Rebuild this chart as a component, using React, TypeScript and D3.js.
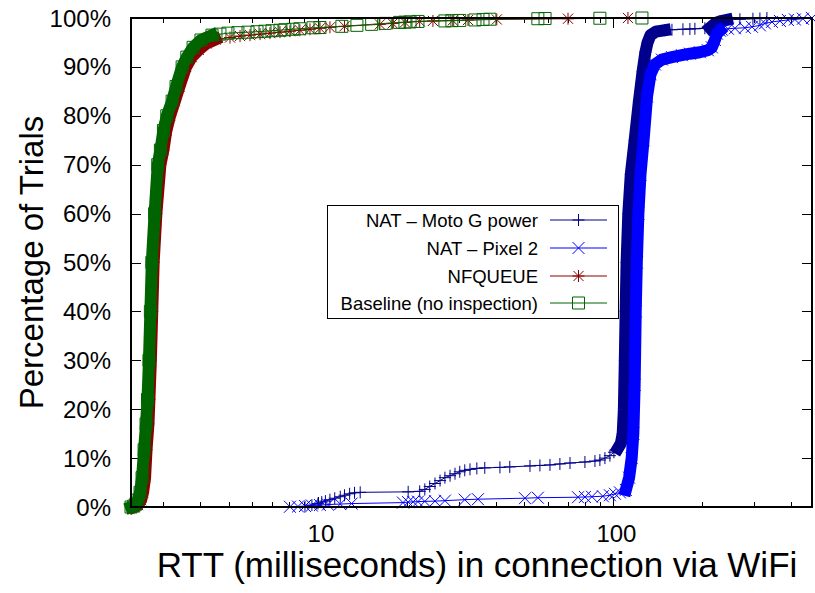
import React from 'react';
import * as d3 from 'd3';

type Pt = [number, number]; // [RTT in ms, cumulative percent of trials]

// ---------- axis data ----------
const xDomain: [number, number] = [2.33, 470];
const xMajorTicks = [10, 100];
const xMajorLabels = ['10', '100'];
const xMinorTicks = [3, 4, 5, 6, 7, 8, 9, 20, 30, 40, 50, 60, 70, 80, 90, 200, 300, 400];
const yTicks = [0, 10, 20, 30, 40, 50, 60, 70, 80, 90, 100];
const yTickLabels = ['0%', '10%', '20%', '30%', '40%', '50%', '60%', '70%', '80%', '90%', '100%'];
const xTitle = 'RTT (milliseconds) in connection via WiFi';
const yTitle = 'Percentage of Trials';

const seriesNames = ['NAT – Moto G power', 'NAT – Pixel 2', 'NFQUEUE', 'Baseline (no inspection)'];

// ---------- NAT – Moto G power ----------
// "Body" = ranges where thousands of samples overplot into a solid band.
const motoBody: Pt[][] = [
  [[103.6, 12], [106, 13], [107.5, 15], [108.5, 20], [109.3, 30], [110.0, 40], [110.8, 50], [112.3, 60],
   [114.5, 68], [118, 75], [122, 83], [125.5, 89], [128.3, 93], [130.5, 95], [133.5, 96.5], [139.3, 97.2],
   [149.4, 97.5]],
  [[212.2, 98], [217.1, 98.5], [222.3, 99], [229.4, 99.3], [242.2, 99.6]],
];
const motoMarks: Pt[] = [
  [9.04, 0.1], [9.54, 0.4], [10.0, 0.7], [10.3, 1], [10.6, 1.2], [10.98, 1.5], [11.4, 1.8], [11.9, 2.1],
  [12.3, 2.4], [12.8, 2.7], [13.3, 2.9], [13.9, 3], [20.2, 3.1], [22.1, 3.2], [23.0, 3.6], [23.9, 4.2],
  [24.9, 4.8], [25.9, 5.4], [26.9, 6], [28.0, 6.4], [29.1, 6.8], [30.2, 7.2], [31.4, 7.5], [32.7, 7.7],
  [34.5, 7.9], [36.7, 8], [41.3, 8.1], [44.6, 8.2], [52.2, 8.4], [56.4, 8.5], [61.0, 8.6], [65.9, 8.8],
  [71.3, 9], [80.1, 9.2], [86.6, 9.4], [90.0, 9.6], [93.6, 10], [97.3, 10.5], [100.4, 11.2],
  [157.8, 97.6], [171.9, 97.7], [181.5, 97.75], [188.7, 97.8], [204.0, 97.9],
  [268.0, 99.75], [296.6, 99.85], [313.2, 99.9], [330.7, 100],
];

// ---------- NAT – Pixel 2 ----------
const pixelBody: Pt[][] = [
  [[110.2, 3.5], [113.0, 6], [115.3, 10], [116.8, 15], [118.0, 25], [119.0, 40], [120.0, 50], [121.5, 60],
   [123.5, 68], [126.5, 75], [130.0, 84], [133.5, 88.5], [138.2, 90.5], [145.9, 91.5], [157.8, 92],
   [170.5, 92.4], [181.5, 92.7], [196.2, 93], [208.8, 93.4], [215.4, 94], [220.5, 95.5], [224.0, 96.8],
   [229.4, 97.4]],
];
const pixelMarks: Pt[] = [
  [8.04, 0.05], [8.56, 0.1], [9.04, 0.2], [9.54, 0.3], [10.16, 0.4], [10.81, 0.5], [11.9, 0.6], [13.0, 0.7],
  [19.4, 0.9], [20.2, 1], [21.0, 1.05], [21.8, 1.1], [23.0, 1.15], [24.9, 1.2], [26.9, 1.3], [31.4, 1.5],
  [34.8, 1.6], [50.2, 1.8], [55.5, 1.9], [75.9, 2], [80.1, 2.05], [84.6, 2.1], [92.1, 2.2], [97.3, 2.4],
  [101.2, 2.7], [105.2, 3.0],
  [232.9, 97.6], [244.1, 97.8], [257.8, 97.9], [278.6, 98], [294.3, 98.2], [313.2, 98.5], [325.6, 98.9],
  [343.9, 99.2], [366.0, 99.4], [389.4, 99.6], [411.4, 99.7], [437.8, 99.85], [469.7, 100],
];

// ---------- NFQUEUE ----------
const nfqBody: Pt[][] = [
  [[2.38, 0], [2.46, 0.4], [2.52, 1.4], [2.56, 3], [2.60, 6], [2.63, 11.7], [2.67, 17], [2.69, 22], [2.72, 30],
   [2.75, 40], [2.78, 50], [2.84, 60], [2.93, 70], [3.00, 73], [3.07, 77], [3.16, 80], [3.28, 83], [3.40, 86],
   [3.58, 90], [3.74, 92], [3.95, 93.5], [4.2, 94.8], [4.5, 95.6]],
];
const nfqMarks: Pt[] = [
  [5.04, 96], [5.45, 96.3], [5.89, 96.5], [6.37, 96.7], [6.88, 96.9], [7.44, 97.1], [8.04, 97.3], [8.69, 97.5],
  [9.40, 97.7], [10.16, 97.9], [10.98, 98.1], [12.3, 98.3], [16.2, 98.7], [17.9, 98.9], [19.7, 99.1],
  [22.1, 99.3], [24.5, 99.4], [28.6, 99.5], [32.2, 99.6], [40.3, 99.7], [70.2, 99.85], [112, 100],
];

// ---------- Baseline (no inspection) ----------
const baseBody: Pt[][] = [
  [[2.33, 0], [2.38, 0.2], [2.42, 0.6], [2.46, 1.4], [2.50, 3], [2.54, 6], [2.58, 11.7], [2.62, 17], [2.65, 22],
   [2.68, 30], [2.71, 40], [2.74, 50], [2.80, 60], [2.87, 70], [2.93, 73], [3.00, 77], [3.08, 80], [3.21, 83],
   [3.31, 86], [3.47, 90], [3.60, 92], [3.78, 94], [4.02, 95.5], [4.38, 96.5]],
];
const baseMarks: Pt[] = [
  [4.66, 96.7], [4.96, 96.9], [5.36, 97], [5.80, 97.1], [6.22, 97.2], [6.62, 97.3], [6.99, 97.4], [7.44, 97.5],
  [7.73, 97.6], [8.23, 97.7], [8.69, 97.8], [9.62, 98], [10.16, 98.05], [12.05, 98.3], [13.55, 98.5],
  [15.2, 98.7], [16.9, 98.9], [18.9, 99.1], [19.7, 99.15], [20.5, 99.2], [21.8, 99.3], [26.9, 99.4],
  [28.4, 99.45], [30.2, 99.5], [34.0, 99.6], [36.2, 99.7], [38.2, 99.75], [55.5, 99.85], [58.7, 99.9],
  [90.0, 99.95], [124.9, 100],
];

// ---------- layout ----------
const W = 815;
const H = 593;
const M = { left: 131, right: 812, top: 18, bottom: 507 };
const MARK = 6; // marker half size
const BAND = 12; // width of overplotted marker band
const FONT = '"Liberation Sans", Arial, Helvetica, sans-serif';

type Shape = 'plus' | 'cross' | 'star' | 'square';

const seriesDefs = [
  { name: seriesNames[0], color: '#00008b', shape: 'plus' as Shape, body: motoBody, marks: motoMarks },
  { name: seriesNames[1], color: '#0000ff', shape: 'cross' as Shape, body: pixelBody, marks: pixelMarks },
  { name: seriesNames[2], color: '#8b0000', shape: 'star' as Shape, body: nfqBody, marks: nfqMarks },
  { name: seriesNames[3], color: '#006400', shape: 'square' as Shape, body: baseBody, marks: baseMarks },
];

function markerPath(shape: Shape, x: number, y: number, s: number): string {
  const plus = `M${x - s},${y}H${x + s}M${x},${y - s}V${y + s}`;
  const cs = s * 0.85;
  const cross = `M${x - cs},${y - cs}L${x + cs},${y + cs}M${x - cs},${y + cs}L${x + cs},${y - cs}`;
  if (shape === 'plus') return plus;
  if (shape === 'cross') return `M${x - s},${y - s}L${x + s},${y + s}M${x - s},${y + s}L${x + s},${y - s}`;
  if (shape === 'star') return plus + cross;
  return `M${x - s},${y - s}H${x + s}V${y + s}H${x - s}Z`;
}

export default function App() {
  const x = d3.scaleLog().domain(xDomain).range([M.left, M.right]);
  const y = d3.scaleLinear().domain([0, 100]).range([M.bottom, M.top]);
  const line = d3.line<Pt>().x((d) => x(d[0])).y((d) => y(d[1]));

  const legendRows = [220, 248, 276, 303];

  return (
    <>
      <style>{`body{margin:0;background:#fff}`}</style>
      <svg width={W} height={H} style={{ display: 'block', fontFamily: FONT }}>
        <rect x={0} y={0} width={W} height={H} fill="#fff" />

        {/* ticks */}
        <g stroke="#000" strokeWidth={1}>
          {yTicks.map((t) => (
            <g key={'yt' + t}>
              <line x1={M.left} x2={M.left + 10} y1={Math.round(y(t)) + 0.5} y2={Math.round(y(t)) + 0.5} />
              <line x1={M.right - 10} x2={M.right} y1={Math.round(y(t)) + 0.5} y2={Math.round(y(t)) + 0.5} />
            </g>
          ))}
          {xMajorTicks.map((t) => (
            <g key={'xt' + t}>
              <line x1={Math.round(x(t)) + 0.5} x2={Math.round(x(t)) + 0.5} y1={M.bottom} y2={M.bottom - 10} />
              <line x1={Math.round(x(t)) + 0.5} x2={Math.round(x(t)) + 0.5} y1={M.top} y2={M.top + 10} />
            </g>
          ))}
          {xMinorTicks.map((t) => (
            <g key={'xm' + t}>
              <line x1={Math.round(x(t)) + 0.5} x2={Math.round(x(t)) + 0.5} y1={M.bottom} y2={M.bottom - 5} />
              <line x1={Math.round(x(t)) + 0.5} x2={Math.round(x(t)) + 0.5} y1={M.top} y2={M.top + 5} />
            </g>
          ))}
        </g>

        {/* series */}
        {seriesDefs.map((s) => {
          const all: Pt[] = [...s.marks, ...s.body.flat()].sort((a, b) => a[1] - b[1] || a[0] - b[0]);
          return (
            <g key={s.name}>
              {s.body.map((b, i) => (
                <path key={i} d={line(b) || ''} fill="none" stroke={s.color} strokeWidth={BAND}
                  strokeLinejoin="round" strokeLinecap="square" />
              ))}
              <path d={line(all) || ''} fill="none" stroke={s.color} strokeWidth={1} />
              <path
                d={all.map((p) => markerPath(s.shape, x(p[0]), y(p[1]), MARK)).join('')}
                fill="none" stroke={s.color} strokeWidth={1}
              />
            </g>
          );
        })}

        {/* border */}
        <rect x={M.left} y={M.top} width={M.right - M.left} height={M.bottom - M.top}
          fill="none" stroke="#000" strokeWidth={2} />

        {/* tick labels */}
        <g fontSize={24} fill="#000">
          {yTicks.map((t, i) => (
            <text key={'yl' + t} x={111} y={y(t) + 8.5} textAnchor="end">{yTickLabels[i]}</text>
          ))}
          {xMajorTicks.map((t, i) => (
            <text key={'xl' + t} x={x(t) + 3} y={542} textAnchor="middle">{xMajorLabels[i]}</text>
          ))}
        </g>

        {/* axis titles */}
        <text x={477} y={577} fontSize={35} textAnchor="middle" fill="#000">{xTitle}</text>
        <text transform={`translate(43,${(M.top + M.bottom) / 2}) rotate(-90)`} fontSize={33}
          textAnchor="middle" fill="#000">{yTitle}</text>

        {/* legend */}
        <g>
          <rect x={327.5} y={205.5} width={291} height={113} fill="#fff" stroke="#000" strokeWidth={1} />
          {seriesDefs.map((s, i) => (
            <g key={'lg' + i}>
              <text x={538} y={legendRows[i] + 6.5} fontSize={18.5} textAnchor="end" fill="#000">{s.name}</text>
              <line x1={550} x2={607} y1={legendRows[i]} y2={legendRows[i]} stroke={s.color} strokeWidth={1} />
              <path d={markerPath(s.shape, 578.5, legendRows[i], MARK)} fill="none" stroke={s.color} strokeWidth={1} />
            </g>
          ))}
        </g>
      </svg>
    </>
  );
}
